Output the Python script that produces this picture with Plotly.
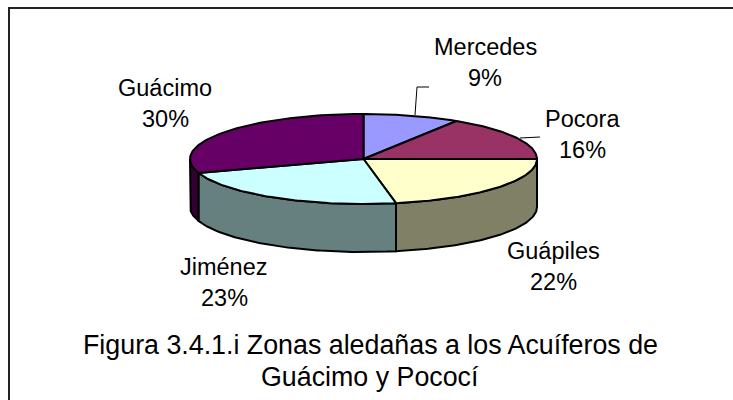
import numpy as np
import plotly.graph_objects as go

categories = ["Mercedes", "Pocora", "Guápiles", "Jiménez", "Guácimo"]
values = [9, 16, 22, 23, 30]
top_colors = ["#9999FF", "#993366", "#FFFFCC", "#CCFFFF", "#660066"]
side_colors = ["#666699", "#662244", "#808066", "#668080", "#330033"]
title_lines = ["Figura 3.4.1.i Zonas aledañas a los Acuíferos de", "Guácimo y Pococí"]

W, H = 733, 400
CX, CY, RX, RY, DEPTH = 363.5, 159, 173.5, 45, 48
FONT = "Liberation Sans"
FS = 23.5
TFS = 26.8
LW = 2


def pt(deg, dy=0.0):
    a = np.radians(deg)
    return CX + RX * np.sin(a), CY - RY * np.cos(a) + dy


fig = go.Figure()
cum = np.cumsum([0] + values) / sum(values) * 360

# walls: visible front half only
for i in range(len(values)):
    a0, a1 = max(cum[i], 90), min(cum[i + 1], 270)
    if a1 <= a0:
        continue
    t = np.linspace(a0, a1, 80)
    xt, yt = pt(t)
    xb, yb = pt(t[::-1], DEPTH)
    fig.add_trace(go.Scatter(
        x=np.r_[xt, xb, xt[0]], y=np.r_[yt, yb, yt[0]], mode="lines", fill="toself",
        fillcolor=side_colors[i], line=dict(color="black", width=LW), hoverinfo="skip", showlegend=False))

# top faces
for i in range(len(values)):
    t = np.linspace(cum[i], cum[i + 1], 100)
    xt, yt = pt(t)
    fig.add_trace(go.Scatter(
        x=np.r_[CX, xt, CX], y=np.r_[CY, yt, CY], mode="lines", fill="toself",
        fillcolor=top_colors[i], line=dict(color="black", width=LW),
        name=categories[i], hoverinfo="name", showlegend=False))

# leader lines
for lx, ly in [((415, 417, 429), (115, 87, 87)), ((520, 540), (138, 137))]:
    fig.add_trace(go.Scatter(x=lx, y=ly, mode="lines", line=dict(color="black", width=1),
                             hoverinfo="skip", showlegend=False))

label_pos = {"Mercedes": (485, 47), "Pocora": (582, 119), "Guápiles": (553, 251),
             "Jiménez": (224, 267), "Guácimo": (165, 88)}
LS = 31
ann = []
for c, v in zip(categories, values):
    x, y = label_pos[c]
    ann.append(dict(x=x, y=y, text=c, font=dict(family=FONT, size=FS, color="black")))
    ann.append(dict(x=x, y=y + LS, text=f"{round(v / sum(values) * 100)}%",
                    font=dict(family=FONT, size=FS, color="black")))
for j, s in enumerate(title_lines):
    ann.append(dict(x=370, y=345 + 32 * j, text=s, font=dict(family=FONT, size=TFS, color="black")))
for a in ann:
    a.update(xref="x", yref="y", showarrow=False, xanchor="center", yanchor="middle")

fig.update_layout(
    width=W, height=H, margin=dict(l=0, r=0, t=0, b=0), autosize=False,
    paper_bgcolor="white", plot_bgcolor="white", showlegend=False, annotations=ann,
    xaxis=dict(range=[0, W], visible=False, fixedrange=True),
    yaxis=dict(range=[H, 0], visible=False, fixedrange=True),
    shapes=[dict(type="path", xref="x", yref="y", path=f"M 9 {H} L 9 8 L {W} 8",
                 line=dict(color="#222222", width=2), layer="below")],
)
fig.write_html("out.html", config=dict(displayModeBar=False),
               post_script="document.body.style.margin='0';document.documentElement.style.overflow='hidden';")
